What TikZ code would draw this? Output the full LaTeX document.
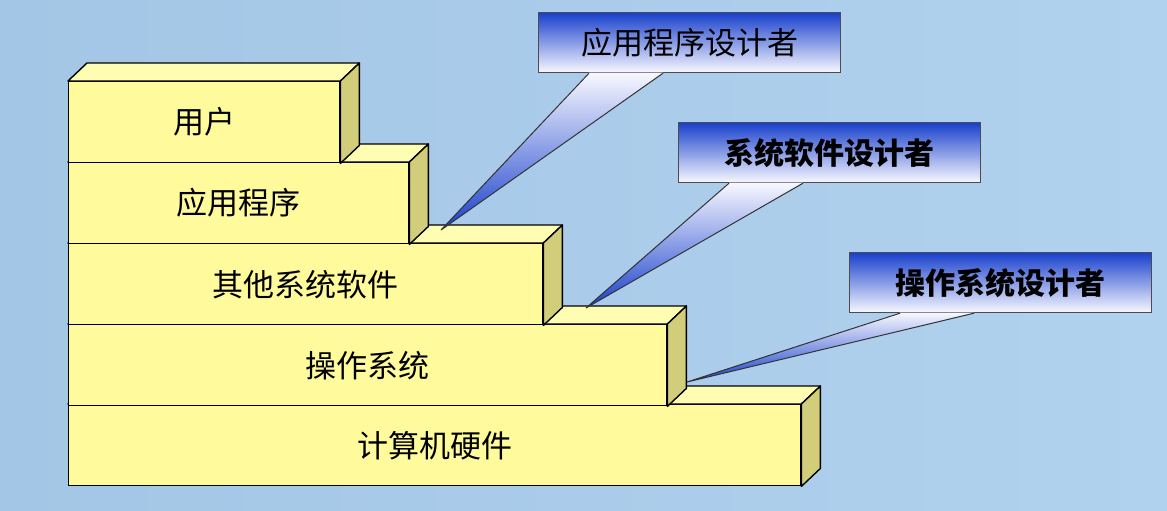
\documentclass[tikz,border=0pt]{standalone}
\usepackage{fontspec}
\newfontfamily\cjk{Noto Sans CJK SC}
\usetikzlibrary{calc}
\definecolor{frontc}{RGB}{255,251,156}
\definecolor{topc}{RGB}{255,253,178}
\definecolor{sidec}{RGB}{210,205,122}
\definecolor{bgL}{RGB}{164,198,230}
\definecolor{bgM}{RGB}{204,232,248}
\definecolor{bgR}{RGB}{176,210,238}
\definecolor{cblue}{RGB}{24,64,204}
\definecolor{cmid}{RGB}{196,206,244}
\definecolor{cwhite}{RGB}{248,248,255}
\begin{document}
\begin{tikzpicture}[x=1pt,y=-1pt,
  front/.style={draw=black, line width=1.4pt, fill=frontc, anchor=north west,
    font=\cjk\fontsize{31}{36}\selectfont, inner sep=0pt, minimum height=81},
  topface/.style={draw=black, line width=1.4pt, fill=topc, line join=round},
  sideface/.style={draw=black, line width=1.4pt, fill=sidec, line join=round},
  callout/.style={draw=black!70, line width=1.2pt, anchor=north west,
    top color=cblue, middle color=cmid, bottom color=cwhite,
    minimum width=302, minimum height=60, inner sep=0pt,
    font=\cjk\fontsize{31}{36}\selectfont},
  boldcallout/.style={callout, font=\cjk\bfseries\fontsize{30}{36}\selectfont},
  tailfill/.style={top color=cwhite, middle color=cwhite!85!cblue, bottom color=cblue},
  tailline/.style={draw=black!80, line width=1pt}
]
% background
\shade[left color=bgL, middle color=bgM, right color=bgR] (0,0) rectangle (1167,511);
\useasboundingbox (0,0) rectangle (1167,511);

% boxes (bottom first): name / top y / width / text
\foreach \b/\y/\w/\t in {f5/404/732/计算机硬件, f4/324/598/操作系统, f3/243/474/其他系统软件, f2/162/340/应用程序, f1/81/271/用户}{
  \node[front, minimum width=\w] (\b) at (68,\y) {\t};
  \draw[topface] (\b.north west) -- ($(\b.north west)+(19,-18)$) -- ($(\b.north east)+(19,-18)$) -- (\b.north east) -- cycle;
  \draw[sideface] (\b.north east) -- ($(\b.north east)+(19,-18)$) -- ($(\b.south east)+(19,-18)$) -- (\b.south east) -- cycle;
}

% callouts
\node[callout] (c1) at (538,12) {应用程序设计者};
\node[boldcallout] (c2) at (678,122) {系统软件设计者};
\node[boldcallout] (c3) at (849,252) {操作系统设计者};

\coordinate (t1) at (441,230);
\coordinate (t2) at (586,308);
\coordinate (t3) at (687,382);

\foreach \c/\t in {c1/t1,c2/t2,c3/t3}{
  \coordinate (\c a) at ($(\c.south west)+(51,0)$);
  \coordinate (\c b) at ($(\c.south west)+(125,0)$);
  \shade[tailfill] ($(\c a)+(0,-0.6)$) -- (\t) -- ($(\c b)+(0,-0.6)$) -- cycle;
  \draw[tailline] (\c a) -- (\t) -- (\c b);
}
\end{tikzpicture}
\end{document}
